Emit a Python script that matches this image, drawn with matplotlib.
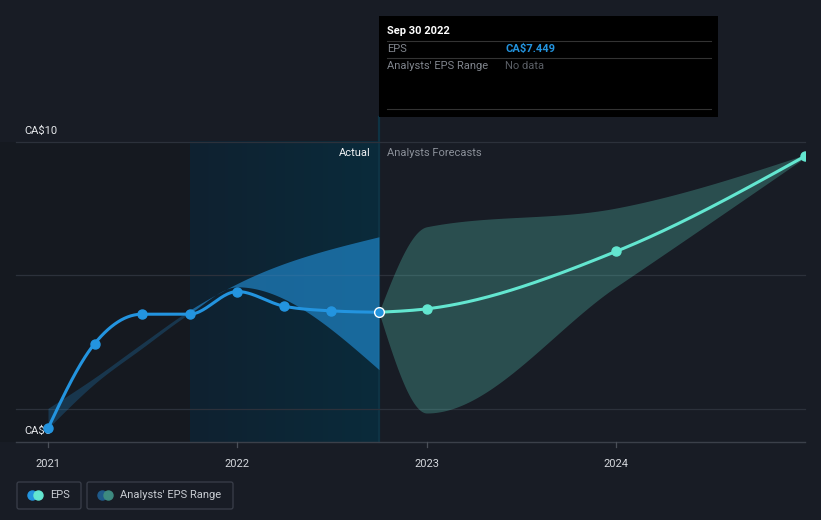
import numpy as np
import pandas as pd
import matplotlib
matplotlib.use('Agg')
import matplotlib.pyplot as plt
from matplotlib.patches import Rectangle, FancyBboxPatch

plt.rcParams['font.family'] = ['Roboto', 'DejaVu Sans']

# EPS, actual (CA$)
actual_dates = ['2020-12-31', '2021-03-31', '2021-06-30', '2021-09-30',
                '2021-12-31', '2022-03-31', '2022-06-30', '2022-09-30']
actual_eps = [5.71, 6.98, 7.42, 7.42, 7.76, 7.54, 7.47, 7.449]

# EPS, analyst forecasts
forecast_dates = ['2022-09-30', '2022-12-31', '2023-12-31', '2024-12-31']
forecast_eps = [7.449, 7.50, 8.36, 9.79]
forecast_low = [7.449, 5.94, 7.83, 9.77]
forecast_high = [7.449, 8.73, 9.01, 9.81]

# past analyst EPS range
past_range_dates = ['2020-12-31', '2021-03-31', '2021-06-30', '2021-09-30',
                    '2021-12-31', '2022-09-30']
past_range_low = [5.71, 6.38, 6.91, 7.43, 7.83, 6.59]
past_range_high = [6.01, 6.47, 6.98, 7.48, 7.88, 8.58]

years = [2021, 2022, 2023, 2024]
grid_values = [6, 8, 10]

BG = '#181c25'
BLUE = '#2394df'
TEAL = '#63e6d0'


def to_year(s):
    d = pd.Timestamp(s)
    n = 366 if d.is_leap_year else 365
    return d.year + d.dayofyear / n


def monotone(x, y, n=300):
    # monotone cubic hermite curve through the points (like d3 curveMonotoneX)
    x = np.asarray(x, float)
    y = np.asarray(y, float)
    h = np.diff(x)
    s = np.diff(y) / h
    m = np.zeros_like(y)
    m[0], m[-1] = s[0], s[-1]
    for i in range(1, len(y) - 1):
        if s[i - 1] * s[i] > 0:
            p = (s[i - 1] * h[i] + s[i] * h[i - 1]) / (h[i - 1] + h[i])
            m[i] = np.sign(s[i]) * min(2 * abs(s[i - 1]), 2 * abs(s[i]), abs(p))
    if len(y) > 2:
        m[0] = (3 * s[0] - m[1]) / 2 if s[0] * (3 * s[0] - m[1]) > 0 else 0
        m[-1] = (3 * s[-1] - m[-2]) / 2 if s[-1] * (3 * s[-1] - m[-2]) > 0 else 0
    xs, ys = [], []
    for i in range(len(h)):
        t = np.linspace(0, 1, n // len(h) + 2)
        h00 = 2 * t**3 - 3 * t**2 + 1
        h10 = t**3 - 2 * t**2 + t
        h01 = -2 * t**3 + 3 * t**2
        h11 = t**3 - t**2
        xs.append(x[i] + t * h[i])
        ys.append(h00 * y[i] + h10 * h[i] * m[i] + h01 * y[i + 1] + h11 * h[i] * m[i + 1])
    return np.concatenate(xs), np.concatenate(ys)


ax_x = [to_year(d) for d in actual_dates]
fc_x = [to_year(d) for d in forecast_dates]
pr_x = [to_year(d) for d in past_range_dates]
now = ax_x[-1]
start_hl = to_year('2021-09-30')
x_end = fc_x[-1]

XLIM = (2020.7465, 2025.0827)
YLIM = (4.337, 12.127)

fig = plt.figure(figsize=(8.21, 5.2), dpi=100, facecolor=BG)
ax = fig.add_axes([0, 0, 1, 1])
ax.set_facecolor(BG)
ax.axis('off')

x_left = 2021 - 32 / 189.33
y_base = 5.5
y_top = 10

# shaded background: past region and last twelve months
ax.add_patch(Rectangle((XLIM[0], y_base), start_hl - XLIM[0], y_top - y_base,
                       color='#151920', lw=0, zorder=0))
grad = np.linspace(0, 1, 256).reshape(1, -1)
cmap = matplotlib.colors.LinearSegmentedColormap.from_list('hl', ['#0f2130', '#0a2b3b'])
ax.imshow(grad, extent=[start_hl, now, y_base, y_top], aspect='auto', cmap=cmap,
          interpolation='bilinear', zorder=0.5)
ax.set_xlim(*XLIM)
ax.set_ylim(*YLIM)
ax.plot([now, now], [y_base, 10.37], color='#0e3344', lw=1.6, zorder=1)

# grid lines and base axis
for g in grid_values:
    ax.plot([x_left, x_end], [g, g], color='#2c313b', lw=0.9, zorder=1)
ax.plot([x_left, x_end], [y_base, y_base], color='#3b404a', lw=1, zorder=1)
for yr in years:
    ax.plot([yr, yr], [y_base, y_base - 0.07], color='#4a4f58', lw=0.9, zorder=1)
    ax.text(yr, 5.18, str(yr), color='#d4d7dc', fontsize=8, ha='center', va='center')

ax.text(XLIM[0] + 24 / 189.33, 10.17, 'CA$10', color='#e6e8eb', fontsize=8, va='center')
ax.text(XLIM[0] + 24 / 189.33, 5.67, 'CA$6', color='#e6e8eb', fontsize=8, va='center', zorder=1)

# past analyst range
px, plo = monotone(pr_x, past_range_low)
_, phi = monotone(pr_x, past_range_high)
ax.fill_between(px, plo, phi, where=px <= start_hl + 0.01, color=BLUE, alpha=0.24, lw=0, zorder=2)
ax.fill_between(px, plo, phi, where=px >= start_hl, color=BLUE, alpha=0.6, lw=0, zorder=2)

# forecast range
fx, flo = monotone(fc_x, forecast_low)
_, fhi = monotone(fc_x, forecast_high)
ax.fill_between(fx, flo, fhi, color=TEAL, alpha=0.25, lw=0, zorder=2)

# EPS lines
clip = Rectangle((2020.5, 4), x_end - 2020.5, 9, transform=ax.transData)
lx, ly = monotone(ax_x, actual_eps)
ax.plot(lx, ly, color=BLUE, lw=2.2, zorder=3, solid_capstyle='round')
ax.plot(ax_x[:-1], actual_eps[:-1], 'o', color=BLUE, ms=6.5, zorder=4)
gx, gy = monotone(fc_x, forecast_eps)
ln, = ax.plot(gx, gy, color=TEAL, lw=2.2, zorder=3)
ln.set_clip_path(clip)
pts, = ax.plot(fc_x[1:], forecast_eps[1:], 'o', color=TEAL, ms=6.5, zorder=4)
pts.set_clip_path(clip)
ax.plot([now], [actual_eps[-1]], 'o', color=BLUE, mec='white', mew=1.0, ms=7, zorder=5)

ax.text(now - 8 / 189.33, 9.83, 'Actual', color='#f0f2f4', fontsize=8, ha='right', va='center')
ax.text(now + 8 / 189.33, 9.83, 'Analysts Forecasts', color='#8b9099', fontsize=8, ha='left', va='center')

# overlay in pixel units for tooltip and legend
ov = fig.add_axes([0, 0, 1, 1])
ov.set_xlim(0, 821)
ov.set_ylim(520, 0)
ov.axis('off')
ov.patch.set_alpha(0)

ov.add_patch(Rectangle((379, 16), 339, 101, color='black', lw=0))
ov.text(387, 31, 'Sep 30 2022', color='white', fontsize=8, fontweight='bold', va='center')
for yy in [41, 58, 109]:
    ov.plot([387, 711], [yy, yy], color='#333333', lw=0.8)
ov.text(387, 49, 'EPS', color='#80858d', fontsize=8, va='center')
ov.text(505, 49, 'CA$7.449', color=BLUE, fontsize=8, fontweight='bold', va='center')
ov.text(387, 66, "Analysts' EPS Range", color='#80858d', fontsize=8, va='center')
ov.text(505, 66, 'No data', color='#5a5e65', fontsize=8, va='center')

ov.add_patch(FancyBboxPatch((17, 482), 64, 27, boxstyle='round,pad=0,rounding_size=2',
                            fc='none', ec='#3a3f4a', lw=0.9))
ov.add_patch(FancyBboxPatch((87, 482), 146, 27, boxstyle='round,pad=0,rounding_size=2',
                            fc='none', ec='#3a3f4a', lw=0.9))
ov.plot([32], [495], 'o', color=BLUE, ms=6.5)
ov.plot([38], [495], 'o', color=TEAL, ms=6.5)
ov.text(50, 495.5, 'EPS', color='#c8ccd2', fontsize=8, va='center')
ov.plot([102], [495], 'o', color='#1f5a8a', ms=6.5)
ov.plot([108], [495], 'o', color='#3d8a80', ms=6.5)
ov.text(120, 495.5, "Analysts' EPS Range", color='#c8ccd2', fontsize=8, va='center')

fig.savefig('out.png', dpi=100, facecolor=BG)
